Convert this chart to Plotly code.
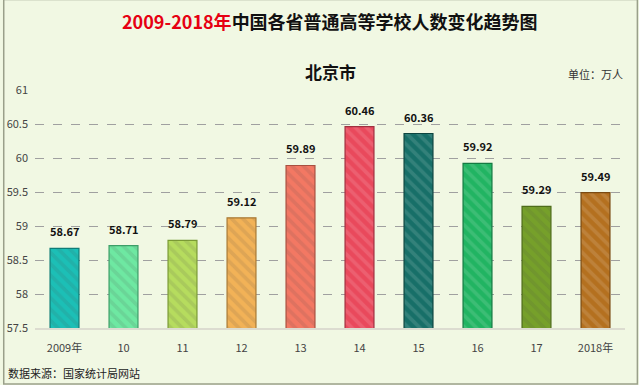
import plotly.graph_objects as go

years = ["2009年", "10", "11", "12", "13", "14", "15", "16", "17", "2018年"]
values = [58.67, 58.71, 58.79, 59.12, 59.89, 60.46, 60.36, 59.92, 59.29, 59.49]
colors = ["#1cbfb6", "#6ee8a2", "#b6dc5e", "#f2b257", "#f37863", "#e9495c",
          "#176f68", "#21b462", "#76a02a", "#b4701f"]
edge_colors = ["#0f7d77", "#3c9e68", "#7a9a34", "#a87a35", "#a85040", "#a03040",
               "#0d4540", "#147a42", "#4e6c1a", "#7a4a12"]
yticks = [57.5, 58, 58.5, 59, 59.5, 60, 60.5, 61]

font = "Noto Sans CJK SC"
bg = "#f1f8e3"

fig = go.Figure()
fig.add_trace(go.Bar(
    x=years, y=values,
    marker=dict(
        color=colors,
        line=dict(color=edge_colors, width=1.2),
        pattern=dict(shape="\\", fgcolor="#ffffff", fgopacity=0.12,
                     size=8, solidity=0.45),
    ),
    width=0.49,
    hoverinfo="x+y",
))

# value labels: category index position on the category axis
annotations = [
    dict(x=i, y=v, xref="x", yref="y", text=f"<b>{v:.2f}</b>", showarrow=False,
         yanchor="bottom", yshift=7, font=dict(family=font, size=11, color="#111"))
    for i, v in enumerate(values)
]
annotations += [
    dict(text="<b><span style='color:#e60012'>2009-2018年</span>中国各省普通高等学校人数变化趋势图</b>",
         xref="paper", yref="paper", x=0.5, y=1, xanchor="center", yanchor="bottom",
         yshift=54, showarrow=False, font=dict(family=font, size=18, color="#111")),
    dict(text="<b>北京市</b>", xref="paper", yref="paper", x=0.5, y=1,
         xanchor="center", yanchor="bottom", yshift=4, showarrow=False,
         font=dict(family=font, size=17, color="#111")),
    dict(text="单位：万人", xref="paper", yref="paper", x=1, y=1,
         xanchor="right", yanchor="bottom", yshift=6, xshift=0, showarrow=False,
         font=dict(family=font, size=11, color="#333")),
    dict(text="数据来源：国家统计局网站", xref="paper", yref="paper", x=0, y=0,
         xanchor="left", yanchor="top", xshift=-29, yshift=-35, showarrow=False,
         font=dict(family=font, size=11, color="#222")),
]

fig.update_layout(
    width=639, height=385,
    margin=dict(l=35, r=14, t=90, b=57, autoexpand=False),
    paper_bgcolor=bg, plot_bgcolor=bg,
    showlegend=False,
    font=dict(family=font, color="#444", size=11),
    xaxis=dict(
        type="category", showgrid=False, showline=True, linecolor="#dcdcd0",
        linewidth=2, ticks="", tickfont=dict(size=11, color="#444"),
        automargin=False, range=[-0.5, len(years) - 0.5], ticklabelstandoff=9,
    ),
    yaxis=dict(
        range=[57.5, 61], tickvals=yticks, ticktext=[f"{v:g}" for v in yticks],
        showgrid=True, gridcolor="#a0a0a0", griddash="dash", gridwidth=0.7,
        zeroline=False, showline=False, ticks="", ticklabelstandoff=6,
        tickfont=dict(size=11, color="#444"), automargin=False,
    ),
    annotations=annotations,
    shapes=[
        dict(type="rect", xref="paper", yref="paper", x0=-0.053, x1=1.021,
             y0=-0.235, y1=1.38, line=dict(color="#9aa08a", width=1.5),
             fillcolor="rgba(0,0,0,0)"),
    ],
)

fig.write_html("out.html", post_script="document.body.style.margin='0px';",
               config={"displayModeBar": False})
